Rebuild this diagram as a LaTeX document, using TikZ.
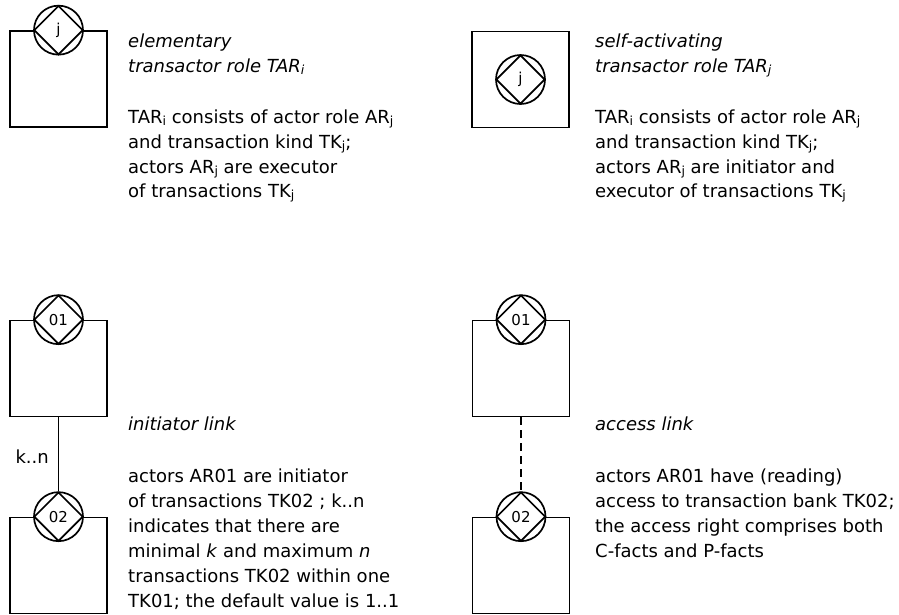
\documentclass[tikz,border=0pt]{standalone}
\usepackage{fontspec}
\setmainfont{DejaVu Sans}
\usetikzlibrary{shapes.geometric}
\newcommand\sbx[1]{\raisebox{-0.12em}{\fontsize{12.5}{12.5}\selectfont #1}}
\begin{document}
\begin{tikzpicture}[x=1pt,y=-1pt,
  lw/.style={line width=1.7pt},
  box/.style={draw,lw,rectangle,minimum width=97pt,minimum height=96pt,inner sep=0pt},
  ring/.style={draw,lw,circle,fill=white,minimum size=49pt,inner sep=0pt},
  dia/.style={draw,lw,diamond,aspect=1,minimum width=49pt,minimum height=49pt,inner sep=0pt,font=\fontsize{15}{15}\selectfont},
  txt/.style={anchor=base west,inner sep=0pt,font=\fontsize{18}{18}\selectfont},
  link/.style={lw},
  accesslink/.style={lw,dash pattern=on 8pt off 5pt}
]
\path[use as bounding box] (0,0) rectangle (899,614);

% Panel 1: elementary transactor role
\node[box] (b1) at (58.5,79) {};
\node[ring] (c1) at (b1.north) {};
\node[dia] (d1) at (c1) {j};
\node[txt] (t1a) at (128,47) {\itshape elementary};
\node[txt] (t1b) at (128,72) {\itshape transactor role TAR\sbx{i}};
\node[txt] (t1c) at (128,123) {TAR\sbx{i} consists of actor role AR\sbx{j}};
\node[txt] (t1d) at (128,148) {and transaction kind TK\sbx{j};};
\node[txt] (t1e) at (128,173) {actors AR\sbx{j} are executor};
\node[txt] (t1f) at (128,197) {of transactions TK\sbx{j}};

% Panel 2: self-activating transactor role
\node[box] (b2) at (520.5,79.5) {};
\node[ring] (c2) at (b2.center) {};
\node[dia] (d2) at (c2) {j};
\node[txt] (t2a) at (595,47) {\itshape self-activating};
\node[txt] (t2b) at (595,72) {\itshape transactor role TAR\sbx{j}};
\node[txt] (t2c) at (595,123) {TAR\sbx{i} consists of actor role AR\sbx{j}};
\node[txt] (t2d) at (595,148) {and transaction kind TK\sbx{j};};
\node[txt] (t2e) at (595,173) {actors AR\sbx{j} are initiator and};
\node[txt] (t2f) at (595,197) {executor of transactions TK\sbx{j}};

% Panel 3: initiator link
\node[box] (b3) at (58.5,368.5) {};
\node[ring] (c3) at (b3.north) {};
\node[dia] (d3) at (c3) {01};
\node[box] (b4) at (58.5,565.5) {};
\node[ring] (c4) at (b4.north) {};
\node[dia] (d4) at (c4) {02};
\draw[link] (b3.south) -- (c4.north);
\node[txt,anchor=base east] (kn) at (49,463) {k..n};
\node[txt] (t3a) at (128,430) {\itshape initiator link};
\node[txt] (t3b) at (128,482) {actors AR01 are initiator};
\node[txt] (t3c) at (128,507) {of transactions TK02 ; k..n};
\node[txt] (t3d) at (128,532) {indicates that there are};
\node[txt] (t3e) at (128,557) {minimal \textit{k} and maximum \textit{n}};
\node[txt] (t3f) at (128,582) {transactions TK02 within one};
\node[txt] (t3g) at (128,607) {TK01; the default value is 1..1};

% Panel 4: access link
\node[box] (b5) at (521,368.5) {};
\node[ring] (c5) at (b5.north) {};
\node[dia] (d5) at (c5) {01};
\node[box] (b6) at (521,565.5) {};
\node[ring] (c6) at (b6.north) {};
\node[dia] (d6) at (c6) {02};
\draw[accesslink] (b5.south) -- (c6.north);
\node[txt] (t4a) at (595,430) {\itshape access link};
\node[txt] (t4b) at (595,482) {actors AR01 have (reading)};
\node[txt] (t4c) at (595,507) {access to transaction bank TK02;};
\node[txt] (t4d) at (595,532) {the access right comprises both};
\node[txt] (t4e) at (595,557) {C-facts and P-facts};
\end{tikzpicture}
\end{document}
